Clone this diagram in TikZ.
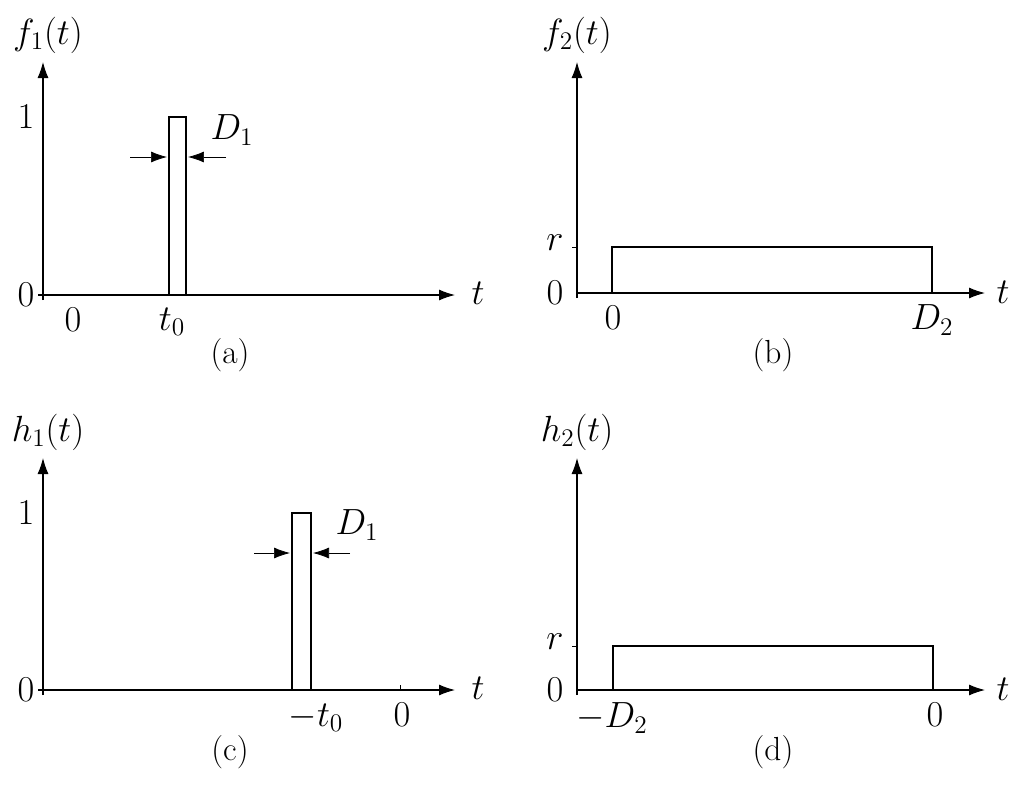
\documentclass[tikz,border=0pt]{standalone}
\usepackage{amsmath,amssymb}
\usetikzlibrary{arrows.meta, calc}

\begin{document}
\begin{tikzpicture}[
    x=0.02cm, y=-0.02cm,
    >={Latex[length=3.2mm, width=2.2mm]},
    axis/.style={->, line width=0.6pt},
    pulse/.style={line width=1.4pt},
    lbl/.style={font=\fontsize{21}{24}\selectfont},
    captext/.style={font=\fontsize{19}{22}\selectfont}
]
\useasboundingbox (0,0) rectangle (1024,785);

% --- Panel (a) ---
\draw[axis] (38,295) -- (455,295);
\draw[axis] (43,300) -- (43,62);
\draw[pulse] (169,295) rectangle (186,117);
\draw[->] (130,157) -- (167,157);
\draw[->] (226,157) -- (188,157);
\node[lbl] (fa) at (48,35) {$f_1(t)$};
\node[lbl] (ta) at (478,293) {$t$};
\node[lbl] (oa) at (26,117) {$1$};
\node[lbl] (za) at (26,295) {$0$};
\node[lbl] (xa0) at (73,320) {$0$};
\node[lbl] (xat) at (172,322) {$t_0$};
\node[lbl] (da) at (232,130) {$D_1$};
\node[captext] (ca) at (230,355) {(a)};

% --- Panel (b) ---
\draw[axis] (577,293) -- (985,293);
\draw[axis] (577,298) -- (577,62);
\draw[pulse] (612,293) rectangle (932,247);
\draw (572,247) -- (577,247);
\node[lbl] (fb) at (577,35) {$f_2(t)$};
\node[lbl] (tb) at (1003,292) {$t$};
\node[lbl] (rb) at (555,243) {$r$};
\node[lbl] (zb) at (555,293) {$0$};
\node[lbl] (xb0) at (613,318) {$0$};
\node[lbl] (xbd) at (932,320) {$D_2$};
\node[captext] (cb) at (773,355) {(b)};

% --- Panel (c) ---
\draw[axis] (38,690) -- (455,690);
\draw[axis] (43,695) -- (43,458);
\draw[pulse] (292,690) rectangle (311,513);
\draw (400,690) -- (400,685);
\draw[->] (254,553) -- (290,553);
\draw[->] (350,553) -- (313,553);
\node[lbl] (hc) at (48,432) {$h_1(t)$};
\node[lbl] (tc) at (478,688) {$t$};
\node[lbl] (oc) at (26,513) {$1$};
\node[lbl] (zc) at (26,690) {$0$};
\node[lbl] (xct) at (316,718) {$-t_0$};
\node[lbl] (xc0) at (402,715) {$0$};
\node[lbl] (dc) at (357,525) {$D_1$};
\node[captext] (cc) at (230,752) {(c)};

% --- Panel (d) ---
\draw[axis] (577,690) -- (985,690);
\draw[axis] (577,695) -- (577,458);
\draw[pulse] (613,690) rectangle (933,646);
\draw (572,646) -- (577,646);
\node[lbl] (hd) at (577,432) {$h_2(t)$};
\node[lbl] (td) at (1003,689) {$t$};
\node[lbl] (rd) at (555,642) {$r$};
\node[lbl] (zd) at (555,690) {$0$};
\node[lbl] (xdd) at (612,718) {$-D_2$};
\node[lbl] (xd0) at (935,715) {$0$};
\node[captext] (cd) at (773,752) {(d)};
\end{tikzpicture}
\end{document}
